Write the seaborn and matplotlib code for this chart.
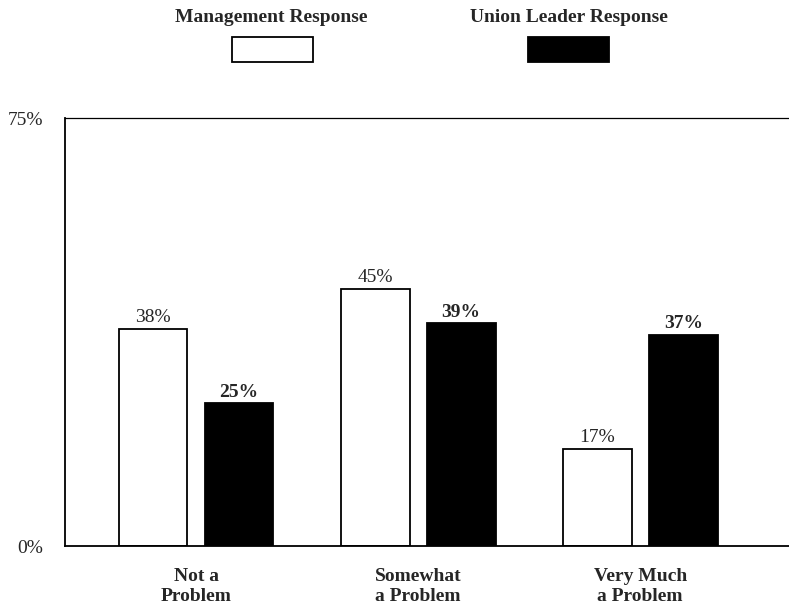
import pandas as pd
import seaborn as sns
import matplotlib.pyplot as plt
from matplotlib.patches import Rectangle

# Survey data
categories = ["Not a\nProblem", "Somewhat\na Problem", "Very Much\na Problem"]
groups = ["Management Response", "Union Leader Response"]
management = [38, 45, 17]
union = [25, 39, 37]

df = pd.DataFrame({
    "category": categories * 2,
    "group": [groups[0]] * 3 + [groups[1]] * 3,
    "value": management + union,
})

sns.set_style("white")
plt.rcParams["font.family"] = ["Liberation Serif", "DejaVu Serif"]

fig = plt.figure(figsize=(7.89, 6.12), dpi=100)
ax = fig.add_axes([0.0824, 0.1078, 0.9176, 0.6993])

sns.barplot(data=df, x="category", y="value", hue="group", order=categories,
            hue_order=groups, palette=["white", "black"], edgecolor="black",
            linewidth=1.3, width=0.775, gap=0.2, legend=False, ax=ax)

# value labels
for cont, weight in zip(ax.containers, ["normal", "bold"]):
    ax.bar_label(cont, fmt="%d%%", padding=2, fontsize=14, fontweight=weight)

ax.set_ylim(0, 75)
ax.set_xlim(-0.59, 2.67)
ax.set_yticks([0, 75])
ax.set_yticklabels(["0%", "75%"], fontsize=14)
ax.set_xticklabels(categories, fontsize=14, fontweight="bold", linespacing=1.2)
ax.tick_params(axis="x", length=0, pad=16)
ax.tick_params(axis="y", length=0, pad=16)
ax.set_xlabel("")
ax.set_ylabel("")
for side in ["left", "bottom", "top"]:
    ax.spines[side].set_visible(True)
    ax.spines[side].set_color("black")
    ax.spines[side].set_linewidth(1.3)
ax.spines["top"].set_linewidth(0.9)
ax.spines["right"].set_visible(False)

# legend drawn above the plot
fig.text(0.344, 0.972, groups[0], ha="center", va="center",
         fontsize=14, fontweight="bold")
fig.text(0.721, 0.972, groups[1], ha="center", va="center",
         fontsize=14, fontweight="bold")
fig.patches.append(Rectangle((0.294, 0.899), 0.103, 0.041, transform=fig.transFigure,
                             facecolor="white", edgecolor="black", linewidth=1.3))
fig.patches.append(Rectangle((0.669, 0.899), 0.103, 0.041, transform=fig.transFigure,
                             facecolor="black", edgecolor="black", linewidth=1.3))

fig.savefig("out.png", dpi=100)
